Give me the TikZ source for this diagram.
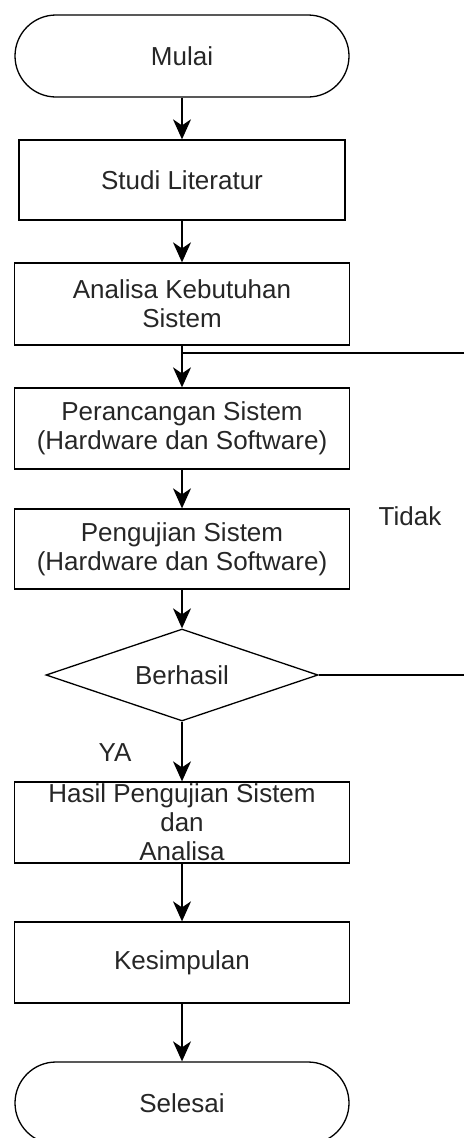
\documentclass[tikz,border=0pt]{standalone}
\usepackage{fontspec}
\setmainfont{Liberation Sans}
\usetikzlibrary{shapes.geometric,arrows.meta}

\begin{document}
\begin{tikzpicture}[x=1pt,y=-1pt,
  every node/.style={font=\fontsize{26}{29}\selectfont, text=black!85},
  proses/.style={draw, line width=1.3pt, minimum width=335pt, minimum height=81pt, inner sep=0pt, align=center},
  terminal/.style={draw, line width=1.3pt, rounded corners=41pt, minimum width=334pt, minimum height=82pt, inner sep=0pt},
  keputusan/.style={draw, diamond, line width=1.3pt, aspect=2.96, minimum width=272pt, minimum height=92pt, inner sep=0pt},
  alur/.style={-{Stealth[length=20pt,width=18pt,inset=6pt]}, line width=1.3pt},
  garis/.style={line width=1.3pt}]
  \useasboundingbox (0,0) rectangle (464,1138);

  % steps
  \node[terminal] (mulai) at (182,56) {Mulai};
  \node[proses, minimum width=326pt, minimum height=80pt] (studi) at (182,180) {Studi Literatur};
  \node[proses, minimum height=82pt] (analisa) at (182,304) {Analisa Kebutuhan\\Sistem};
  \node[proses] (rancang) at (182,428.5) {Perancangan Sistem\\(Hardware dan Software)};
  \node[proses, minimum height=80pt] (uji) at (182,549) {Pengujian Sistem\\(Hardware dan Software)};
  \node[keputusan] (berhasil) at (182,675) {Berhasil};
  \node[proses] (hasil) at (182,822.5) {Hasil Pengujian Sistem\\dan\\Analisa};
  \node[proses] (simpul) at (182,962.5) {Kesimpulan};
  \node[terminal] (selesai) at (182,1103) {Selesai};

  % arrows
  \draw[alur] (mulai) -- (studi);
  \draw[alur] (studi) -- (analisa);
  \draw[alur] (analisa) -- (rancang);
  \draw[alur] (rancang) -- (uji);
  \draw[alur] (uji) -- (berhasil);
  \draw[alur] (berhasil) -- (hasil);
  \draw[alur] (hasil) -- (simpul);
  \draw[alur] (simpul) -- (selesai);

  % loop back
  \coordinate (balik) at (464,353);
  \coordinate (tidak ujung) at (464,675);
  \draw[garis] (berhasil.east) -- (tidak ujung);
  \draw[garis] (balik) -- (balik -| analisa.south);

  % labels
  \node (tidak) at (410,516) {Tidak};
  \node (ya) at (115,753) {YA};
\end{tikzpicture}
\end{document}
